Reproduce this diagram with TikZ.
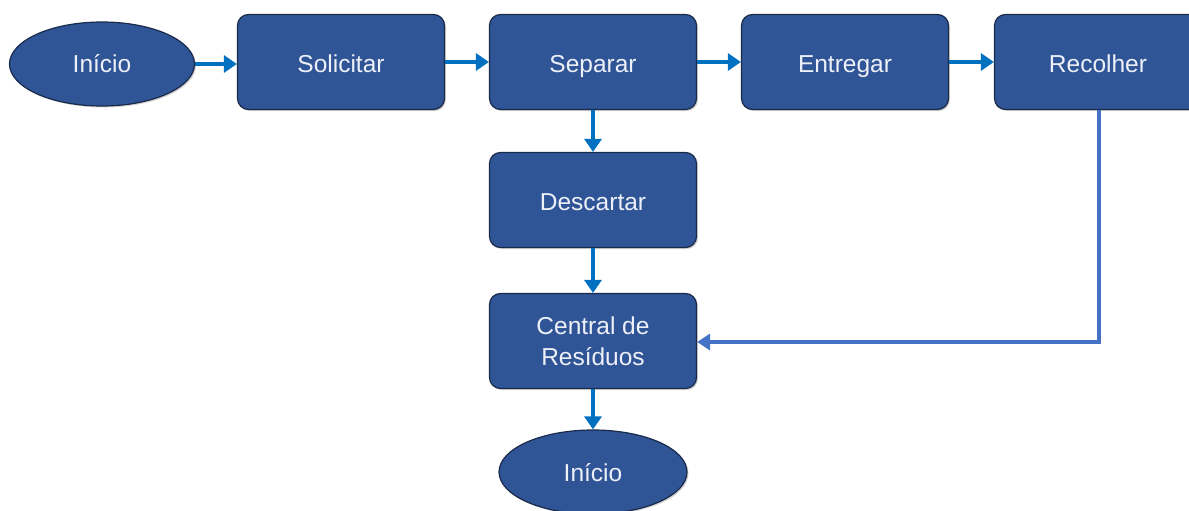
\documentclass[tikz,border=0pt]{standalone}
\usepackage{fontspec}
\setmainfont{Liberation Sans}
\usetikzlibrary{arrows.meta,shapes.geometric,shadows}
\definecolor{boxfill}{HTML}{2F5597}
\definecolor{boxline}{HTML}{1A2A4A}
\definecolor{arrowblue}{HTML}{0070C0}
\definecolor{loopblue}{HTML}{4472C4}
\definecolor{txt}{HTML}{EEF0F8}
\begin{document}
\begin{tikzpicture}[x=1pt,y=-1pt,
  procbox/.style={draw=boxline, line width=1.2pt, fill=boxfill, rounded corners=11pt,
    minimum width=207pt, minimum height=95pt, text=txt, align=center,
    font=\fontsize{24.5}{31}\selectfont, drop shadow={shadow xshift=1.5pt, shadow yshift=-1.5pt, opacity=0.35}},
  oneline/.style={text height=21pt, text depth=0pt},
  term/.style={draw=boxline, line width=1.2pt, fill=boxfill, ellipse,
    minimum width=185pt, minimum height=84pt, inner sep=0pt, text=txt,
    text height=18pt, text depth=0pt,
    font=\fontsize{24.5}{31}\selectfont, drop shadow={shadow xshift=1.5pt, shadow yshift=-1.5pt, opacity=0.35}},
  flow/.style={draw=arrowblue, line width=4.5pt, -{Triangle[length=13pt,width=17pt]}},
  loop/.style={draw=loopblue, line width=3.5pt, -{Triangle[length=13pt,width=16pt]}}]
\useasboundingbox (0,0) rectangle (1189,511);
\clip (0,0) rectangle (1189,511);
\node[term] (ini) at (102,64) {Início};
\node[procbox, oneline] (sol) at (341,62) {Solicitar};
\node[procbox, oneline] (sep) at (593,62) {Separar};
\node[procbox, oneline] (ent) at (845,62) {Entregar};
\node[procbox, oneline] (rec) at (1098,62) {Recolher};
\node[procbox, oneline] (des) at (593,200) {Descartar};
\node[procbox] (cen) at (593,341) {Central de\\Resíduos};
\node[term, minimum width=188pt] (fim) at (593,472) {Início};
\coordinate (corner) at (1099,342);
\draw[flow] (ini.east) -- (sol.west |- ini.east);
\draw[flow] (sol) -- (sep);
\draw[flow] (sep) -- (ent);
\draw[flow] (ent) -- (rec);
\draw[flow] (sep) -- (des);
\draw[flow] (des) -- (cen);
\draw[flow] (cen) -- (fim);
\draw[loop] (rec.south -| corner) -- (corner) -- (cen.east |- corner);
\end{tikzpicture}
\end{document}
